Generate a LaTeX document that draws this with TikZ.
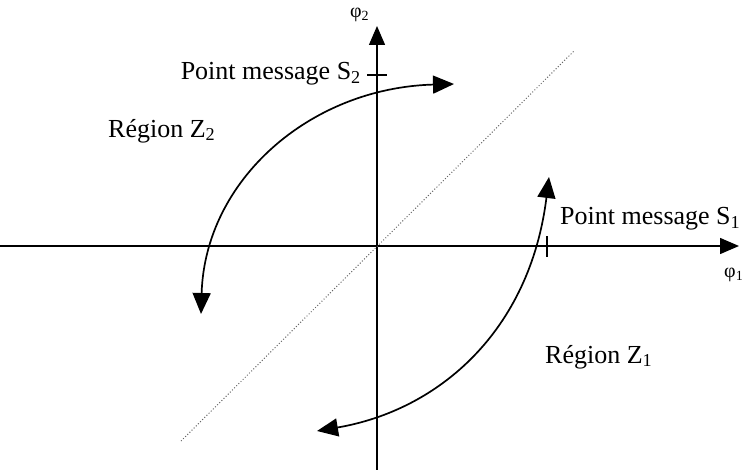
\documentclass[tikz,border=0pt]{standalone}
\usepackage{fontspec}
\setmainfont{Liberation Serif}
\usetikzlibrary{arrows.meta}
\begin{document}
\begin{tikzpicture}[x=1pt,y=-1pt,
  axis/.style={line width=1.4pt,-{Triangle[length=19pt,width=16pt]}},
  arc/.style={line width=1.7pt,{Triangle[length=21pt,width=18pt]}-{Triangle[length=21pt,width=18pt]}},
  tickmark/.style={line width=1.2pt},
  diag/.style={line width=1pt,dotted,black!60},
  lbl/.style={inner sep=0pt,font=\fontsize{26}{29}\selectfont},
  phi/.style={inner sep=0pt,font=\fontsize{20}{22}\selectfont}]
\useasboundingbox (0,0) rectangle (751,470);
% axes
\coordinate (O) at (377,246);
\coordinate (xs) at (0,246);
\coordinate (xe) at (739,246);
\coordinate (ys) at (377,470);
\coordinate (ye) at (377,26);
\draw[axis] (xs) -- (xe);
\draw[axis] (ys) -- (ye);
% diagonal
\coordinate (d1) at (181,441);
\coordinate (d2) at (574,51);
\draw[diag] (d1) -- (d2);
% ticks
\coordinate (t2a) at (367,75);
\coordinate (t2b) at (387,75);
\draw[tickmark] (t2a) -- (t2b);
\coordinate (t1a) at (547,236);
\coordinate (t1b) at (547,257);
\draw[tickmark] (t1a) -- (t1b);
% arcs
\coordinate (a1) at (201,314);
\coordinate (a2) at (454,84);
\draw[arc] (a1) .. controls (205,180) and (310,88) .. (a2);
\coordinate (b1) at (549,177);
\coordinate (b2) at (317,431);
\draw[arc] (b1) .. controls (530,330) and (440,410) .. (b2);
% labels
\node[phi,anchor=west] (phi2) at (350,15) {φ\textsubscript{2}};
\node[phi,anchor=west] (phi1) at (724,275) {φ\textsubscript{1}};
\node[lbl,anchor=east] (s2) at (361,74) {Point message S\textsubscript{2}};
\node[lbl,anchor=west] (s1) at (560,219) {Point message S\textsubscript{1}};
\node[lbl,anchor=west] (z2) at (108,131) {Région Z\textsubscript{2}};
\node[lbl,anchor=west] (z1) at (545,357) {Région Z\textsubscript{1}};
\end{tikzpicture}
\end{document}
